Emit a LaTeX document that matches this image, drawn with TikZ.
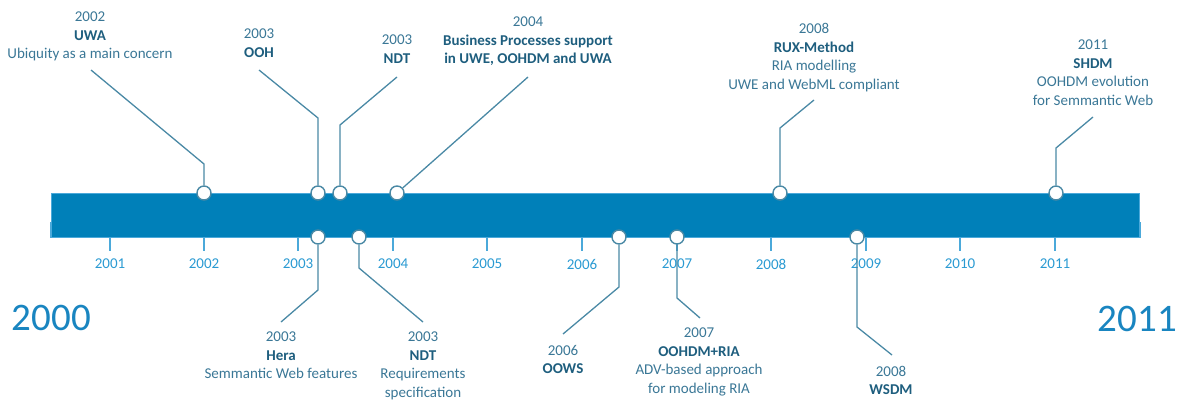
\documentclass[tikz,border=0pt]{standalone}
\usepackage{fontspec}
\setmainfont{Carlito}
\definecolor{barblue}{HTML}{0080B9}
\definecolor{tickblue}{HTML}{4BA9DA}
\definecolor{ticklab}{HTML}{2A9AD2}
\definecolor{bigyr}{HTML}{1985C0}
\definecolor{txtcol}{HTML}{3A7796}
\definecolor{namecol}{HTML}{1E5E7E}
\definecolor{conncol}{HTML}{4A89A5}
\newcommand{\nm}[1]{{\bfseries\color{namecol}#1}}
\tikzset{
  evt/.style={circle, draw=conncol, fill=white, line width=1.4pt, minimum size=14pt, inner sep=0pt},
  conn/.style={draw=conncol, line width=1.3pt},
  lbl/.style={align=center, inner sep=0pt, text=txtcol, font=\fontsize{15}{18.5}\selectfont},
  tickmark/.style={draw=tickblue, line width=1.8pt},
  ticklbl/.style={anchor=north, inner sep=0pt, text=ticklab, font=\fontsize{15}{16}\selectfont},
  bigyear/.style={inner sep=0pt, text=bigyr, font=\fontsize{39}{42}\selectfont},
}
\begin{document}
\begin{tikzpicture}[x=1pt, y=-1pt]
\useasboundingbox (0,0) rectangle (1183,400);
% bar
\node[draw=tickblue, line width=0.8pt, fill=barblue, minimum width=1088pt, minimum height=44pt, inner sep=0pt, anchor=north west] (bar) at (51,193) {};
% end ticks
\draw[tickmark] (bar.south west) -- ++(0,-16);
\draw[tickmark] (bar.south east) -- ++(0,-16);
% year ticks
\foreach \x/\yr in {110/2001, 204/2002, 298/2003, 393/2004, 487/2005, 582/2006, 677/2007, 771/2008, 866/2009, 960/2010, 1055/2011}{
  \draw[tickmark] (\x,237) -- (\x,251);
  \node[ticklbl] (t\yr) at (\x,259) {\yr};
}
% big years
\node[bigyear] (y2000) at (51.5,318) {2000};
\node[bigyear] (y2011) at (1137.5,319) {2011};

% top labels
\node[lbl, anchor=north] (l1) at (90,12) {2002\\\nm{UWA}\\Ubiquity as a main concern};
\node[lbl, anchor=north] (l2) at (259,29) {2003\\\nm{OOH}};
\node[lbl, anchor=north] (l3) at (397,35) {2003\\\nm{NDT}};
\node[lbl, anchor=north] (l4) at (528,17) {2004\\\nm{Business Processes support}\\\nm{in UWE, OOHDM and UWA}};
\node[lbl, anchor=north] (l5) at (814,23.5) {2008\\\nm{RUX-Method}\\RIA modelling\\UWE and WebML compliant};
\node[lbl, anchor=north] (l6) at (1093,40) {2011\\\nm{SHDM}\\OOHDM evolution\\for Semmantic Web};
% bottom labels
\node[lbl, anchor=north] (l7) at (281,332) {2003\\\nm{Hera}\\Semmantic Web features};
\node[lbl, anchor=north] (l8) at (423,332) {2003\\\nm{NDT}\\Requirements\\specification};
\node[lbl, anchor=north] (l9) at (563,345) {2006\\\nm{OOWS}};
\node[lbl, anchor=north] (l10) at (699,328) {2007\\\nm{OOHDM+RIA}\\ADV-based approach\\for modeling RIA};
\node[lbl, anchor=north] (l11) at (891,366) {2008\\\nm{WSDM}};

% connector coordinates
\coordinate (b1) at (204,164); \coordinate (e1) at (91,70);
\coordinate (b2) at (318,118); \coordinate (e2) at (259,70);
\coordinate (b3) at (340,125); \coordinate (e3) at (397,77);
\coordinate (e4) at (528,77);
\coordinate (b5) at (780,128); \coordinate (e5) at (814,100);
\coordinate (b6) at (1056,148); \coordinate (e6) at (1093,117);
\coordinate (b7) at (318,290); \coordinate (e7) at (281,322);
\coordinate (b8) at (359,268); \coordinate (e8) at (423,322);
\coordinate (b9) at (619,287); \coordinate (e9) at (563,334);
\coordinate (b10) at (677,298); \coordinate (e10) at (700,318);
\coordinate (b11) at (857,327); \coordinate (e11) at (892,355);

% event circles
\node[evt] (c1) at (204,193) {};
\node[evt] (c2) at (318,193) {};
\node[evt] (c3) at (340,193) {};
\node[evt] (c4) at (397,193) {};
\node[evt] (c5) at (780,193) {};
\node[evt] (c6) at (1056,193) {};
\node[evt] (c7) at (318,237) {};
\node[evt] (c8) at (359,237) {};
\node[evt] (c9) at (619,237) {};
\node[evt] (c10) at (677,237) {};
\node[evt] (c11) at (857,237) {};

% connectors
\draw[conn] (c1) -- (b1) -- (e1);
\draw[conn] (c2) -- (b2) -- (e2);
\draw[conn] (c3) -- (b3) -- (e3);
\draw[conn] (c4) -- (e4);
\draw[conn] (c5) -- (b5) -- (e5);
\draw[conn] (c6) -- (b6) -- (e6);
\draw[conn] (c7) -- (b7) -- (e7);
\draw[conn] (c8) -- (b8) -- (e8);
\draw[conn] (c9) -- (b9) -- (e9);
\draw[conn] (c10) -- (b10) -- (e10);
\draw[conn] (c11) -- (b11) -- (e11);
\end{tikzpicture}
\end{document}
